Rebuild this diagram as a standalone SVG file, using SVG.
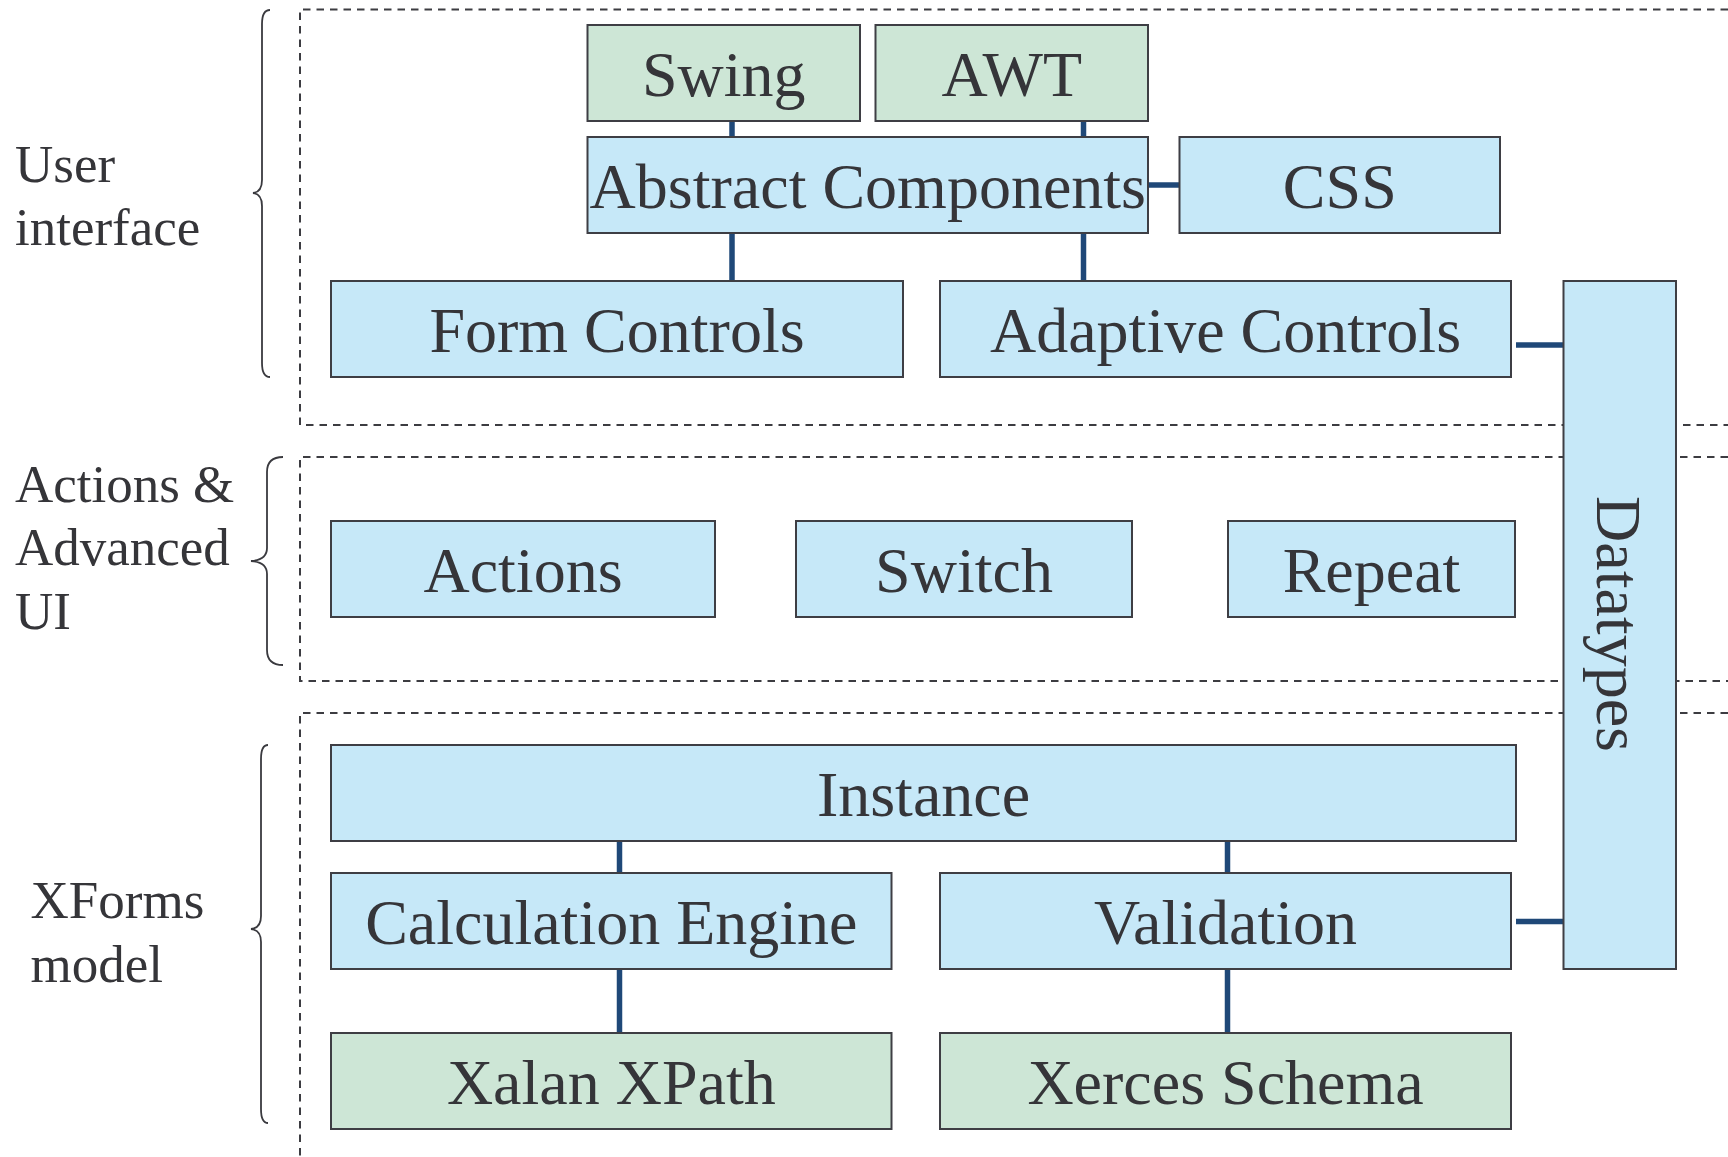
<svg xmlns="http://www.w3.org/2000/svg" width="1728" height="1157" viewBox="0 0 1728 1157">
  <style>
    .bg { fill: #ffffff; }
    .frame { fill: none; stroke: #3c3c41; stroke-width: 2; stroke-dasharray: 7.5 6; }
    .brace { fill: none; stroke: #3a3a3f; stroke-width: 1.8; }
    .box { stroke: #3e3e44; stroke-width: 2; }
    .blue { fill: #c6e8f8; }
    .green { fill: #cde6d6; }
    .link { stroke: #1f4878; stroke-width: 5.5; fill: none; }
    .label { font-family: "Liberation Serif", "Times New Roman", serif; font-size: 53px; fill: #353539; }
    .name { font-family: "Liberation Serif", "Times New Roman", serif; font-size: 64px; fill: #353539; text-anchor: middle; }
  </style>

  <rect class="bg" x="0" y="0" width="1728" height="1157"/>

  <!-- layer frames (open to the right) -->
  <g id="frames">
    <path class="frame" d="M1728,9.5 H300 V425 H1728"/>
    <path class="frame" d="M1728,457 H300 V681 H1728"/>
    <path class="frame" d="M1728,713 H300 V1157"/>
  </g>

  <!-- layer labels with braces -->
  <g id="layer-ui">
    <text class="label" x="15" y="182">User</text>
    <text class="label" x="15" y="245">interface</text>
    <path class="brace" d="M270,10 Q262,10 262,24 V180 Q262,192 253,193 Q262,194 262,206 V363 Q262,377 270,377"/>
  </g>
  <g id="layer-actions">
    <text class="label" x="15" y="502">Actions &amp;</text>
    <text class="label" x="15" y="565">Advanced</text>
    <text class="label" x="15" y="629">UI</text>
    <path class="brace" d="M283,457 Q267,457 267,472 V548 Q267,560 251,561 Q267,562 267,574 V650 Q267,665 283,665"/>
  </g>
  <g id="layer-model">
    <text class="label" x="30.6" y="918">XForms</text>
    <text class="label" x="30.6" y="982">model</text>
    <path class="brace" d="M268,745 Q261,745 261,759 V916 Q261,928 251,929 Q261,930 261,942 V1109 Q261,1123 268,1123"/>
  </g>

  <!-- connectors -->
  <g id="connectors">
    <line class="link" x1="732" y1="121" x2="732" y2="137"/>
    <line class="link" x1="1083.5" y1="121" x2="1083.5" y2="137"/>
    <line class="link" x1="732" y1="233" x2="732" y2="281"/>
    <line class="link" x1="1083.5" y1="233" x2="1083.5" y2="281"/>
    <line class="link" x1="1148" y1="185" x2="1179.5" y2="185"/>
    <line class="link" x1="1516" y1="345" x2="1563.5" y2="345"/>
    <line class="link" x1="1516" y1="921.5" x2="1563.5" y2="921.5"/>
    <line class="link" x1="619.5" y1="841" x2="619.5" y2="873"/>
    <line class="link" x1="619.5" y1="969" x2="619.5" y2="1033"/>
    <line class="link" x1="1227.5" y1="841" x2="1227.5" y2="873"/>
    <line class="link" x1="1227.5" y1="969" x2="1227.5" y2="1033"/>
  </g>

  <!-- nodes -->
  <g id="swing">
    <rect class="box green" x="587.5" y="25" width="272.5" height="96"/>
    <text class="name" x="723.8" y="96">Swing</text>
  </g>
  <g id="awt">
    <rect class="box green" x="875.5" y="25" width="272.5" height="96"/>
    <text class="name" x="1011.8" y="96">AWT</text>
  </g>
  <g id="abstract-components">
    <rect class="box blue" x="587.5" y="137" width="560.5" height="96"/>
    <text class="name" x="867.8" y="208">Abstract Components</text>
  </g>
  <g id="css">
    <rect class="box blue" x="1179.5" y="137" width="320.5" height="96"/>
    <text class="name" x="1339.8" y="208">CSS</text>
  </g>
  <g id="form-controls">
    <rect class="box blue" x="331" y="281" width="572" height="96"/>
    <text class="name" x="617" y="352">Form Controls</text>
  </g>
  <g id="adaptive-controls">
    <rect class="box blue" x="940" y="281" width="571" height="96"/>
    <text class="name" x="1225.5" y="352">Adaptive Controls</text>
  </g>
  <g id="datatypes">
    <rect class="box blue" x="1563.5" y="281" width="112.5" height="688"/>
    <text class="name" transform="translate(1597,624) rotate(90)" x="0" y="0">Datatypes</text>
  </g>
  <g id="actions">
    <rect class="box blue" x="331" y="521" width="384" height="96"/>
    <text class="name" x="523" y="592">Actions</text>
  </g>
  <g id="switch">
    <rect class="box blue" x="796" y="521" width="336" height="96"/>
    <text class="name" x="964" y="592">Switch</text>
  </g>
  <g id="repeat">
    <rect class="box blue" x="1228" y="521" width="287" height="96"/>
    <text class="name" x="1371.5" y="592">Repeat</text>
  </g>
  <g id="instance">
    <rect class="box blue" x="331" y="745" width="1185" height="96"/>
    <text class="name" x="923.5" y="816">Instance</text>
  </g>
  <g id="calculation-engine">
    <rect class="box blue" x="331" y="873" width="560.5" height="96"/>
    <text class="name" x="611.3" y="944">Calculation Engine</text>
  </g>
  <g id="validation">
    <rect class="box blue" x="940" y="873" width="571" height="96"/>
    <text class="name" x="1225.5" y="944">Validation</text>
  </g>
  <g id="xalan-xpath">
    <rect class="box green" x="331" y="1033" width="560.5" height="96"/>
    <text class="name" x="611.3" y="1104">Xalan XPath</text>
  </g>
  <g id="xerces-schema">
    <rect class="box green" x="940" y="1033" width="571" height="96"/>
    <text class="name" x="1225.5" y="1104">Xerces Schema</text>
  </g>
</svg>
